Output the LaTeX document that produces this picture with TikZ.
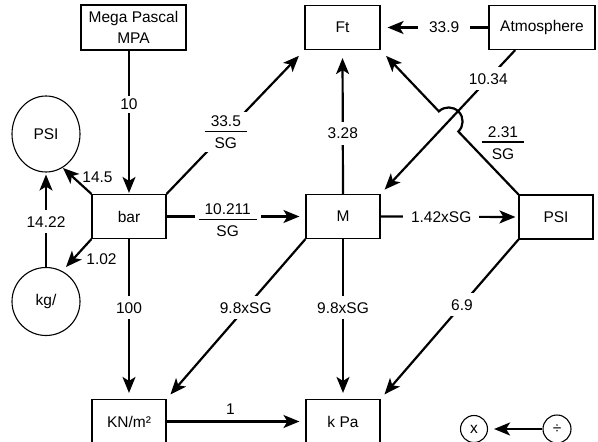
\documentclass[tikz,border=0pt]{standalone}
\usepackage{fontspec}
\setmainfont{Liberation Sans}
\usetikzlibrary{arrows.meta,calc,shapes.geometric}
\newcommand\frc[2]{\begingroup\renewcommand\arraystretch{0}\setlength\arrayrulewidth{1.2pt}\begin{tabular}{@{\hspace{6pt}}c@{\hspace{6pt}}}\rule[-4pt]{0pt}{12pt}#1\\\hline\rule{0pt}{16.5pt}#2\end{tabular}\endgroup}
\begin{document}
\begin{tikzpicture}[x=1pt,y=1pt,
  every node/.style={font=\fontsize{15.5}{18}\selectfont},
  box/.style={draw,line width=1.1pt,minimum width=74pt,minimum height=44pt,inner sep=0pt},
  circ/.style={draw,circle,line width=1.1pt,minimum size=68pt,inner sep=0pt},
  arr/.style={line width=2.2pt,-{Stealth[length=16pt,width=13pt,inset=4pt]}},
  lbl/.style={fill=white,inner sep=6pt},
  fr/.style={fill=white,inner sep=4pt}]
\clip (0,0) rectangle (598,-442);
\fill[white] (0,0) rectangle (598,-442);
% nodes
\node[box,minimum width=105pt,minimum height=45pt,align=center,font=\fontsize{15.5}{21}\selectfont] (mega) at (133.5,-27.5) {Mega Pascal\\MPA};
\node[box,minimum width=75pt] (ft) at (342.5,-27.5) {Ft};
\node[box,minimum width=106pt] (atm) at (542,-27.5) {Atmosphere};
\node[draw,ellipse,line width=1.1pt,minimum width=68pt,minimum height=76pt,inner sep=0pt] (psic) at (46,-134) {PSI};
\node[circ] (kg) at (46,-301.5) {kg/};
\node[box] (bar) at (129,-216.5) {bar};
\node[box] (m) at (343,-216.5) {M};
\node[box] (psir) at (556,-217) {PSI};
\node[box] (kn) at (129,-421.5) {KN/m²};
\node[box] (kpa) at (343,-421.5) {k Pa};
\node[draw,circle,line width=1.1pt,minimum size=27pt,inner sep=0pt] (mul) at (474,-429) {x};
\node[draw,circle,line width=1.1pt,minimum size=28pt,inner sep=0pt] (dv) at (557,-429) {÷};
\coordinate (c145) at (63,-168);
\coordinate (c102) at (66,-267);
\coordinate (atmS) at ($(atm.south west)!0.25!(atm.south east)$);
\coordinate (hop) at ($(psir.north west)!0.506!(ft.south east)$);
% edges
\draw[arr,shorten >=1pt] (mega.south -| bar.north) -- node[lbl,inner sep=3pt,pos=0.375] (l10) {10} (bar.north);
\draw[arr,shorten >=8pt] (bar.north east) -- node[fr,pos=0.43] (l335) {\frc{33.5}{SG}} (ft.south west);
\draw[arr] (bar.north west) -- (c145);
\node (l145) at (97.5,-177) {14.5};
\draw[arr,shorten >=2pt] (kg.north) -- node[lbl,pos=0.48] (l1422) {14.22} (psic.south);
\draw[arr] (bar.south west) -- (c102);
\node (l102) at (101.5,-259) {1.02};
\draw[arr,shorten >=6pt] (bar.south) -- node[lbl,pos=0.43] (l100) {100} (kn.north);
\draw[arr,shorten >=6pt] (bar.east) -- node[fr,pos=0.44,yshift=-4pt] (l10211) {\frc{10.211}{SG}} (m.west);
\draw[arr,shorten >=3pt] (m.east) -- node[lbl,inner xsep=8pt,pos=0.44] (l142) {1.42xSG} (psir.west);
\draw[arr,shorten >=8pt] (m.north) -- node[lbl,pos=0.42] (l328) {3.28} (ft.south);
\draw[arr,shorten >=7pt] (atm.west) -- node[lbl,inner xsep=11pt,pos=0.41] (l339) {33.9} (ft.east);
\draw[arr,shorten >=6pt] (atmS) -- node[lbl,pos=0.2] (l1034) {10.34} (m.north east);
\draw[arr,shorten >=8pt] (psir.north west) -- ($(hop)!14pt!(psir.north west)$) arc[start angle=-46,end angle=134,radius=14pt] -- (ft.south east);
\node (l231) at (503,-143) {\frc{2.31}{SG}};
\draw[arr,shorten >=6pt] (m.south) -- node[lbl,pos=0.43] (l98b) {9.8xSG} (kpa.north);
\draw[arr,shorten >=6pt] (m.south west) -- node[lbl,pos=0.43] (l98a) {9.8xSG} (kn.north east);
\draw[arr,shorten >=6pt] (psir.south west) -- node[lbl,pos=0.41] (l69) {6.9} (kpa.north east);
\draw[arr,shorten >=6pt] (kn.east) -- node[pos=0.46,above=3pt] (l1) {1} (kpa.west);
\draw[arr,shorten >=6pt] (dv.west) -- (mul.east);
\end{tikzpicture}
\end{document}
